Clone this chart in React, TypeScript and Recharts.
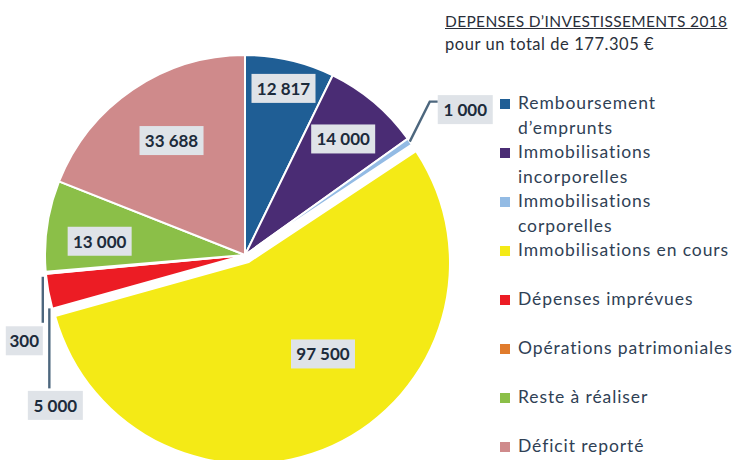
import React from 'react';
import { PieChart, Pie, Cell } from 'recharts';

const categories = [
  'Remboursement d’emprunts',
  'Immobilisations incorporelles',
  'Immobilisations corporelles',
  'Immobilisations en cours',
  'Dépenses imprévues',
  'Opérations patrimoniales',
  'Reste à réaliser',
  'Déficit reporté',
];
const values = [12817, 14000, 1000, 97500, 5000, 300, 13000, 33688];
const legendLines = [
  ['Remboursement', 'd’emprunts'],
  ['Immobilisations', 'incorporelles'],
  ['Immobilisations', 'corporelles'],
  ['Immobilisations en cours'],
  ['Dépenses imprévues'],
  ['Opérations patrimoniales'],
  ['Reste à réaliser'],
  ['Déficit reporté'],
];
const COLORS = ['#1f5e95', '#4a2c74', '#93bbe4', '#f4ea16', '#ec1c24', '#e07b2c', '#8bbf48', '#cf8a8b'];
const YELLOW = 3;

const title = 'DEPENSES D’INVESTISSEMENTS 2018';
const subtitle = 'pour un total de 177.305 €';

const data = categories.map((name, i) => ({ name, value: values[i] }));

const fmt = (v: number) => String(v).replace(/\B(?=(\d{3})+(?!\d))/g, ' ');

const RAD = Math.PI / 180;
const FONT = 'Lato, "Open Sans", sans-serif';

// inside labels: radius factor + angle shift
const inside: Record<number, { r: number; shift: number }> = {
  0: { r: 0.855, shift: 0 },
  1: { r: 0.76, shift: 0 },
  3: { r: 0.63, shift: 13.7 },
  6: { r: 0.73, shift: 3 },
  7: { r: 0.68, shift: -1.5 },
};

// outside labels with leader lines (offsets from slice edge)
const leaders: Record<number, { path: number[][]; box: number[]; align: string }> = {
  2: { path: [[0, 0], [20, -40], [28, -40]], box: [0, 8], align: 'start' },
  5: { path: [[-3, 4], [-3, 50]], box: [0, 18], align: 'end' },
  4: { path: [[1, 17], [1, 97]], box: [6, 17], align: 'middle' },
};

const boxWidth = (text: string) => text.length * 9 + 10;

const LabelBox = ({ x, y, text }: { x: number; y: number; text: string }) => {
  const w = boxWidth(text);
  const h = 29;
  return (
    <g>
      <rect x={x - w / 2} y={y - h / 2} width={w} height={h} fill="#dfe3e8" />
      <text
        x={x}
        y={y}
        textAnchor="middle"
        dominantBaseline="central"
        fontFamily={FONT}
        fontWeight={700}
        fontSize={17}
        fill="#1c2b3b"
      >
        {text}
      </text>
    </g>
  );
};

const renderLabel = (props: any) => {
  const { cx, cy, midAngle, outerRadius, index, value } = props;
  const text = fmt(value);
  const w = boxWidth(text);
  if (inside[index]) {
    const { r, shift } = inside[index];
    const a = (midAngle + shift) * RAD;
    const x = cx + outerRadius * r * Math.cos(-a);
    const y = cy + outerRadius * r * Math.sin(-a);
    return <LabelBox key={index} x={x} y={y} text={text} />;
  }
  const ld = leaders[index];
  if (!ld) return null;
  const ex = cx + outerRadius * Math.cos(-midAngle * RAD);
  const ey = cy + outerRadius * Math.sin(-midAngle * RAD);
  const pts = ld.path.map(([dx, dy]) => [ex + dx, ey + dy]);
  const last = pts[pts.length - 1];
  let bx = last[0] + ld.box[0];
  if (ld.align === 'start') bx += w / 2;
  if (ld.align === 'end') bx -= w / 2;
  const by = last[1] + ld.box[1];
  const d = pts.map((p, k) => `${k === 0 ? 'M' : 'L'}${p[0]},${p[1]}`).join(' ');
  return (
    <g key={index}>
      <path d={d} fill="none" stroke="#4d677e" strokeWidth={2.4} />
      <LabelBox x={bx} y={by} text={text} />
    </g>
  );
};

export default function App() {
  return (
    <div style={{ position: 'absolute', left: 0, top: 0, width: 739, height: 460, background: '#fff', overflow: 'hidden' }}>
      <PieChart width={739} height={460} margin={{ top: 0, right: 0, bottom: 0, left: 0 }}>
        <Pie
          data={data}
          dataKey="value"
          cx={249}
          cy={263}
          outerRadius={200}
          startAngle={90}
          endAngle={-270}
          stroke="none"
          legendType="none"
          isAnimationActive={false}
        >
          {data.map((_, i) => (
            <Cell key={`y-${i}`} fill={i === YELLOW ? COLORS[i] : 'none'} />
          ))}
        </Pie>
        <Pie
          data={data}
          dataKey="value"
          cx={245}
          cy={255}
          outerRadius={200}
          startAngle={90}
          endAngle={-270}
          labelLine={false}
          label={renderLabel}
          isAnimationActive={false}
        >
          {data.map((_, i) => (
            <Cell
              key={`cell-${i}`}
              fill={i === YELLOW ? 'none' : COLORS[i]}
              stroke={i === YELLOW ? 'none' : '#ffffff'}
              strokeWidth={2}
            />
          ))}
        </Pie>
      </PieChart>

      <div style={{ position: 'absolute', left: 445, top: 10, fontFamily: FONT, color: '#2a2f3a' }}>
        <div style={{ fontSize: 15.5, textDecoration: 'underline', letterSpacing: 0.35, lineHeight: '22px' }}>{title}</div>
        <div style={{ fontSize: 16.5, letterSpacing: 0.55, lineHeight: '25px' }}>{subtitle}</div>
      </div>

      <div style={{ position: 'absolute', left: 500, top: 91, fontFamily: FONT, color: '#2f4155' }}>
        {legendLines.map((lines, i) => (
          <div key={i} style={{ display: 'flex', alignItems: 'flex-start', height: 49 }}>
            <div style={{ width: 10, height: 10, background: COLORS[i], marginTop: 8, marginRight: 8 }} />
            <div style={{ fontSize: 17.5, letterSpacing: 0.9, lineHeight: '24.5px', whiteSpace: 'nowrap' }}>
              {lines.map((l, j) => (
                <div key={j}>{l}</div>
              ))}
            </div>
          </div>
        ))}
      </div>
    </div>
  );
}
